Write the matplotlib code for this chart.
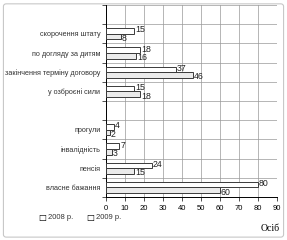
import matplotlib
matplotlib.use("Agg")
import matplotlib.pyplot as plt
from matplotlib.patches import FancyBboxPatch
import numpy as np

# categories top to bottom, '' = empty slot
categories = ['', 'скорочення штату', 'по догляду за дитям', 'закінчення терміну договору',
              'у озброєні сили', '', 'прогули', 'інвалідність', 'пенсія', 'власне бажання']
v2008 = [None, 15, 18, 37, 15, None, 4, 7, 24, 80]
v2009 = [None, 8, 16, 46, 18, None, 2, 3, 15, 60]
xticks = [0, 10, 20, 30, 40, 50, 60, 70, 80, 90]
series_names = ['2008 р.', '2009 р.']

plt.rcParams['font.family'] = ['Liberation Sans', 'DejaVu Sans']

fig = plt.figure(figsize=(2.87, 2.40), dpi=100)
fig.patches.append(FancyBboxPatch((0.012, 0.012), 0.976, 0.972, boxstyle="round,pad=0,rounding_size=0.01",
                                  transform=fig.transFigure, fc='none', ec='#c8c8c8', lw=0.8))
ax = fig.add_axes([0.369, 0.179, 0.596, 0.80])

ypos = np.arange(len(categories))
h = 0.29
edge = '#3a3a3a'
for i, (a, b) in enumerate(zip(v2008, v2009)):
    if a is None:
        continue
    ax.barh(i - h / 2, a, height=h, color='white', edgecolor=edge, lw=0.7, zorder=3)
    ax.barh(i + h / 2, b, height=h, color='#ebebeb', edgecolor=edge, lw=0.7, zorder=3)
    ax.text(a + 0.5, i - h / 2 - 0.06, str(a), fontsize=6.3, va='center', ha='left', color='#222222', zorder=4)
    ax.text(b + 0.5, i + h / 2 + 0.1, str(b), fontsize=6.3, va='center', ha='left', color='#222222', zorder=4)

ax.set_xlim(0, 90)
ax.set_ylim(len(categories) - 0.5, -0.5)
ax.set_xticks(xticks)
ax.set_xticklabels([str(t) for t in xticks], fontsize=5.5)
ax.set_yticks(ypos)
ax.set_yticklabels(categories, fontsize=5.2, color='#333333')
ax.tick_params(axis='y', length=0, pad=4)
ax.set_yticks(np.arange(len(categories) + 1) - 0.5, minor=True)
ax.tick_params(axis='y', which='minor', length=3, width=0.6, color='#333333')
ax.tick_params(axis='x', length=3, width=0.6, color='#333333', pad=3)
ax.grid(axis='x', color='#999999', lw=0.5, zorder=0)
ax.grid(axis='y', which='minor', color='#999999', lw=0.5, zorder=0)
for s in ['top', 'right']:
    ax.spines[s].set_visible(False)
ax.spines['left'].set_linewidth(0.7)
ax.spines['bottom'].set_linewidth(0.7)

# legend
fig.text(0.135, 0.095, '□', fontsize=6, ha='left', va='center', family='DejaVu Sans')
fig.text(0.168, 0.095, series_names[0], fontsize=5.5, ha='left', va='center', color='#333333')
fig.text(0.302, 0.095, '□', fontsize=6, ha='left', va='center', family='DejaVu Sans')
fig.text(0.335, 0.095, series_names[1], fontsize=5.5, ha='left', va='center', color='#333333')
fig.text(0.975, 0.048, 'Осіб', fontsize=7, ha='right', va='center', family='Liberation Serif')

fig.savefig('out.png', dpi=100)
